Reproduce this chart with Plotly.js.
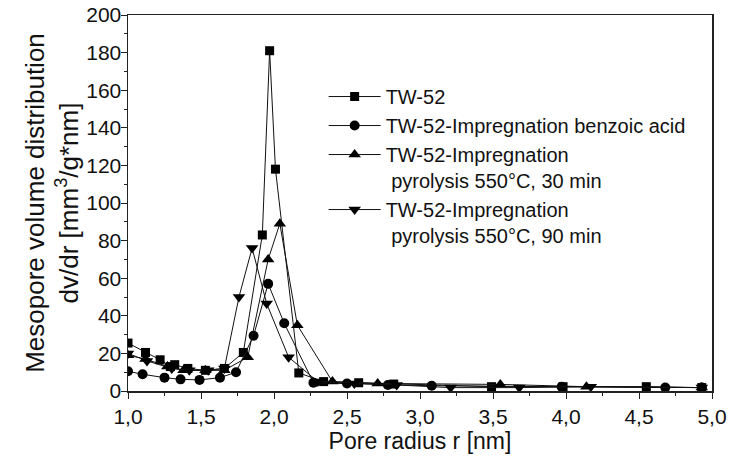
<!DOCTYPE html>
<html>
<head>
<meta charset="utf-8">
<script src="https://cdn.plot.ly/plotly-3.0.1.min.js"></script>
<style>html,body{margin:0;padding:0;background:#fff;}#chart{width:732px;height:464px;}</style>
</head>
<body>
<div id="chart"></div>
<script>
// Data
const tw52X = [1.0,1.12,1.22,1.29,1.32,1.41,1.53,1.66,1.79,1.92,1.97,2.01,2.17,2.34,2.58,2.82,3.49,3.98,4.55,4.93];
const tw52Y = [25.5,20.5,16.6,13,14,12,11,12,20.5,83,181,118,9.6,5,4.4,3.7,2.3,2.3,2.3,1.8];

const benzX = [1.0,1.10,1.25,1.36,1.49,1.63,1.74,1.86,1.96,2.07,2.27,2.50,2.78,3.08,3.97,4.68,4.93];
const benzY = [10.5,8.9,7.1,6.2,5.9,7.1,10,29.4,57,36,4.4,4,3.2,2.8,2.3,1.8,1.8];

const pyr30X = [1.0,1.12,1.27,1.38,1.53,1.66,1.82,1.96,2.04,2.16,2.40,2.71,3.55,4.14,4.93];
const pyr30Y = [19,17,13,11,11,11,18,70,89,35,5,4,3.5,2.3,1.8];

const pyr90X = [1.0,1.13,1.30,1.42,1.55,1.66,1.76,1.85,1.95,2.10,2.30,2.55,2.84,3.21,3.68,4.17,4.93];
const pyr90Y = [20,16,12,11,11,12,50,76,46.5,18,5,4,3.2,1.8,1.8,2.3,1.8];

const seriesNames = [
  "TW-52",
  "TW-52-Impregnation benzoic acid",
  "TW-52-Impregnation<br>&nbsp;pyrolysis 550°C, 30 min",
  "TW-52-Impregnation<br>&nbsp;pyrolysis 550°C, 90 min"
];

const FONT = "Liberation Sans, Arial, sans-serif";
function tr(x, y, name, symbol, size, grp) {
  return {
    x: x, y: y, name: name, type: "scatter", mode: "lines+markers",
    legendgroup: grp,
    line: {color: "#111", width: 1},
    marker: {symbol: symbol, size: size, color: "#000"}
  };
}
const data = [
  tr(tw52X, tw52Y, seriesNames[0], "square", 9, "a"),
  tr(benzX, benzY, seriesNames[1], "circle", 10, "b"),
  tr(pyr30X, pyr30Y, seriesNames[2], "triangle-up", 11, "c"),
  tr(pyr90X, pyr90Y, seriesNames[3], "triangle-down", 11, "d")
];

const layout = {
  width: 732, height: 464,
  margin: {l: 128, r: 20, t: 15, b: 73},
  paper_bgcolor: "#fff", plot_bgcolor: "#fff",
  separators: ",.",
  font: {family: FONT, color: "#111", size: 20},
  showlegend: true,
  legend: {
    x: 0.335, y: 0.835, xanchor: "left", yanchor: "top", valign: "top",
    font: {family: FONT, size: 20, color: "#111"},
    bgcolor: "rgba(0,0,0,0)", tracegroupgap: 0, itemwidth: 52
  },
  xaxis: {
    range: [1.0, 5.0], dtick: 0.5, tick0: 1.0, tickformat: ".1f",
    ticks: "outside", ticklen: 6, tickwidth: 1, tickcolor: "#222",
    minor: {ticks: "outside", ticklen: 3, dtick: 0.25, tickcolor: "#222"},
    showline: true, linecolor: "#222", linewidth: 1.5, mirror: true,
    showgrid: false, zeroline: false,
    tickfont: {family: FONT, size: 21, color: "#111"},
    title: {text: "Pore radius r [nm]", font: {family: FONT, size: 23, color: "#111"}, standoff: 4}
  },
  yaxis: {
    range: [0, 200], dtick: 20, tick0: 0,
    ticks: "outside", ticklen: 6, tickwidth: 1, tickcolor: "#222",
    minor: {ticks: "outside", ticklen: 3, dtick: 10, tickcolor: "#222"},
    ticklabelstandoff: -5,
    showline: true, linecolor: "#222", linewidth: 1.5, mirror: true,
    showgrid: false, zeroline: false,
    tickfont: {family: FONT, size: 21, color: "#111"},
    title: {text: "Mesopore volume distribution<br>dv/dr [mm<sup>3</sup>/g*nm]", font: {family: FONT, size: 26, color: "#111"}, standoff: 0}
  }
};

Plotly.newPlot("chart", data, layout, {displayModeBar: false, staticPlot: true});
</script>
</body>
</html>
